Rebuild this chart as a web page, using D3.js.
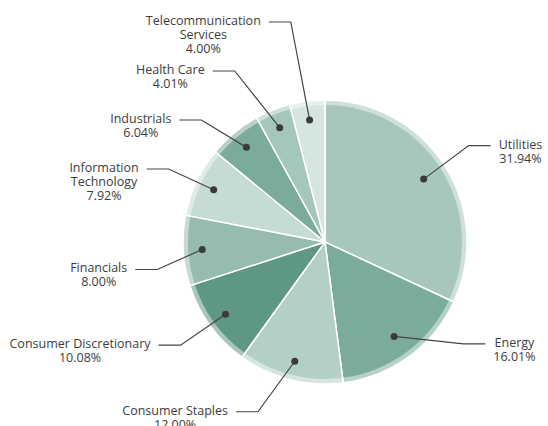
<!DOCTYPE html>
<html>
<head>
<meta charset="utf-8">
<script src="https://cdn.jsdelivr.net/npm/d3@7"></script>
<style>
  body { margin: 0; background: #fff; }
  svg text { font-family: "Open Sans", sans-serif; font-size: 12.5px; fill: #3d3d3d; }
</style>
</head>
<body>
<div class="plot"></div>
<script>
// DATA
var sectors = ["Utilities", "Energy", "Consumer Staples", "Consumer Discretionary", "Financials",
  "Information\nTechnology", "Industrials", "Health Care", "Telecommunication\nServices"];
var weights = [31.94, 16.01, 12.00, 10.08, 8.00, 7.92, 6.04, 4.01, 4.00];
var colors = ["#a7c7bb", "#7aab9b", "#b4cfc6", "#5e9885", "#96bcaf", "#c6dbd4", "#7aab9b", "#a5c6ba", "#d5e5df"];

// label nudges (px, vertical) so the callouts sit like the original
var labelShift = [-4, -37, 3, 2, 17, 0, 0, 0, 0];

var w = 548;
var h = 426;
var cx = 325, cy = 242;
var radius = 142;
var ring = 5;

var data = sectors.map(function (d, i) {
  return { name: d, value: weights[i], color: colors[i], shift: labelShift[i] };
});

var svg = d3.select(".plot").append("svg").attr("width", w).attr("height", h);
var g = svg.append("g").attr("transform", "translate(" + cx + "," + cy + ")");

var pie = d3.pie().sort(null).value(function (d) { return d.value; });
var arcs = pie(data);

var outerArc = d3.arc().innerRadius(0).outerRadius(radius);
var innerArc = d3.arc().innerRadius(0).outerRadius(radius - ring);

// SLICES (light rim + main fill)
var slices = g.selectAll(".slice").data(arcs).enter().append("g").attr("class", "slice");
slices.append("path")
  .attr("d", outerArc)
  .attr("fill", function (d) { return d.data.color; })
  .attr("fill-opacity", 0.55);
slices.append("path")
  .attr("d", innerArc)
  .attr("fill", function (d) { return d.data.color; });
slices.append("path")
  .attr("d", outerArc)
  .attr("fill", "none")
  .attr("stroke", "#fff")
  .attr("stroke-width", 1.5);

// LABEL LAYOUT
var labelR = 172, gap = 49, topLimit = 22;
arcs.forEach(function (d) {
  var a = (d.startAngle + d.endAngle) / 2;
  d.mid = a;
  d.side = Math.sin(a) >= 0 ? 1 : -1;
  var dotR = d.side > 0 ? 117 : 123;
  d.dot = [Math.sin(a) * dotR, -Math.cos(a) * dotR];
  d.ly = -Math.cos(a) * labelR + d.data.shift;
});

function arrange(list) {
  // list sorted by y ascending; push apart then keep inside the frame
  for (var i = list.length - 2; i >= 0; i--) {
    list[i].ly = Math.min(list[i].ly, list[i + 1].ly - gap);
  }
  list[0].ly = Math.max(list[0].ly, topLimit - cy);
  for (var j = 1; j < list.length; j++) {
    list[j].ly = Math.max(list[j].ly, list[j - 1].ly + gap);
  }
}
[1, -1].forEach(function (s) {
  var list = arcs.filter(function (d) { return d.side === s; })
    .sort(function (a, b) { return a.ly - b.ly; });
  arrange(list);
});

arcs.forEach(function (d) {
  var dx = Math.min(45, 150 * Math.abs(Math.sin(d.mid)));
  if (d.side > 0) dx += 30 * Math.max(0, -Math.cos(d.mid));
  d.elbow = [d.dot[0] + d.side * dx, d.ly];
  d.end = [d.elbow[0] + d.side * 22, d.ly];
});

// LEADER LINES
var labels = g.selectAll(".label").data(arcs).enter().append("g").attr("class", "label");
labels.append("polyline")
  .attr("points", function (d) { return [d.dot, d.elbow, d.end].join(" "); })
  .attr("fill", "none")
  .attr("stroke", "#444")
  .attr("stroke-width", 1.2);
labels.append("circle")
  .attr("cx", function (d) { return d.dot[0]; })
  .attr("cy", function (d) { return d.dot[1]; })
  .attr("r", 3.5)
  .attr("fill", "#3a3a3a");

// LABEL TEXT
labels.each(function (d) {
  var lines = d.data.name.split("\n").concat([d.data.value.toFixed(2) + "%"]);
  var t = d3.select(this).append("text").attr("text-anchor", "middle");
  var spans = t.selectAll("tspan").data(lines).enter().append("tspan")
    .attr("y", function (l, i) { return d.ly + 3 + i * 14; })
    .text(function (l) { return l; });
  var maxW = 0;
  spans.each(function () { maxW = Math.max(maxW, this.getComputedTextLength()); });
  var x = d.side > 0 ? d.end[0] + 8 + maxW / 2 : d.end[0] - 8 - maxW / 2;
  spans.attr("x", x);
});
</script>
</body>
</html>
